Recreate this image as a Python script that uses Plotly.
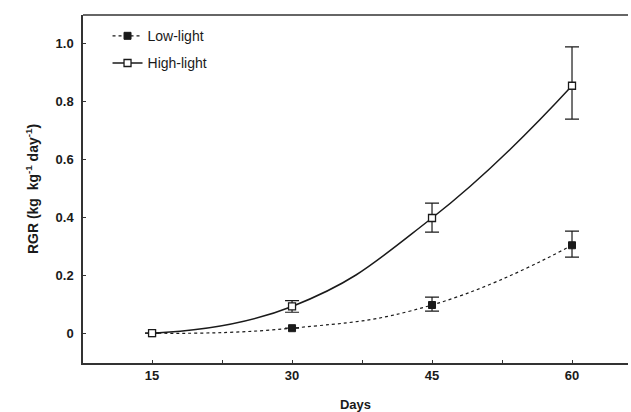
import plotly.graph_objects as go

days = [15, 30, 45, 60]
low_light = [0.0, 0.017, 0.097, 0.303]
low_err_plus = [0.0, 0.0, 0.027, 0.049]
low_err_minus = [0.0, 0.0, 0.021, 0.041]
high_light = [0.0, 0.092, 0.397, 0.853]
high_err_plus = [0.0, 0.02, 0.051, 0.134]
high_err_minus = [0.0, 0.02, 0.049, 0.115]

x_ticks = [15, 30, 45, 60]
y_ticks = [0, 0.2, 0.4, 0.6, 0.8, 1.0]
y_tick_labels = ["0", "0.2", "0.4", "0.6", "0.8", "1.0"]

FONT = "Liberation Sans, Arial, sans-serif"
INK = "#1a1a1a"
AXC = "#333333"

fig = go.Figure()
fig.add_trace(go.Scatter(
    x=days, y=low_light, name="Low-light", mode="lines+markers", legendgroup="low",
    line=dict(color=INK, width=1.2, dash="dot", shape="spline", smoothing=1.3),
    marker=dict(symbol="square", size=7, color=INK, line=dict(color=INK, width=1)),
    error_y=dict(type="data", symmetric=False, array=low_err_plus,
                 arrayminus=low_err_minus, color=INK, thickness=1.2, width=7),
))
fig.add_trace(go.Scatter(
    x=days, y=high_light, name="High-light", mode="lines+markers", legendgroup="high",
    line=dict(color=INK, width=1.5, shape="spline", smoothing=1.3),
    marker=dict(symbol="square", size=7, color="white", line=dict(color=INK, width=1.3)),
    error_y=dict(type="data", symmetric=False, array=high_err_plus,
                 arrayminus=high_err_minus, color=INK, thickness=1.2, width=7),
))

fig.update_layout(
    width=631, height=412,
    margin=dict(l=83, r=3, t=15, b=49),
    paper_bgcolor="white", plot_bgcolor="white",
    font=dict(family=FONT, size=13, color=INK),
    showlegend=True,
    legend=dict(x=0.045, y=0.985, xanchor="left", yanchor="top",
                bgcolor="rgba(0,0,0,0)", font=dict(size=14, family=FONT, color=INK),
                itemwidth=30, tracegroupgap=6),
)
fig.update_xaxes(
    range=[7.6, 66], tickvals=x_ticks, ticktext=[str(v) for v in x_ticks],
    automargin=False,
    showgrid=False, zeroline=False,
    showline=True, linecolor=AXC, linewidth=1.5, mirror=False,
    ticks="inside", ticklen=3, tickcolor=AXC,
    minor=dict(tickvals=[22.5, 37.5, 52.5], ticks="inside", ticklen=3, tickcolor=AXC),
    tickfont=dict(size=13, family=FONT, color=INK, weight="bold"),
    title=dict(text="Days", font=dict(size=13, family=FONT, color=INK, weight="bold"), standoff=24),
)
fig.update_yaxes(
    range=[-0.103, 1.097], tickvals=y_ticks, ticktext=y_tick_labels,
    automargin=False,
    showgrid=False, zeroline=False,
    showline=True, linecolor=AXC, linewidth=1.5,
    ticks="inside", ticklen=3, tickcolor=AXC, ticklabelstandoff=5,
    tickfont=dict(size=13, family=FONT, color=INK, weight="bold"),
    title=dict(text="RGR (kg  kg<sup>-1</sup> day<sup>-1</sup>)",
               font=dict(size=14, family=FONT, color=INK, weight="bold"), standoff=14),
)
# top border line (no right border in the reference)
fig.add_shape(type="line", xref="paper", yref="paper", x0=0, x1=1, y0=1, y1=1,
              line=dict(color=AXC, width=1.5))

fig.write_html("out.html", config={"displayModeBar": False},
               post_script="document.body.style.margin='0px';")
